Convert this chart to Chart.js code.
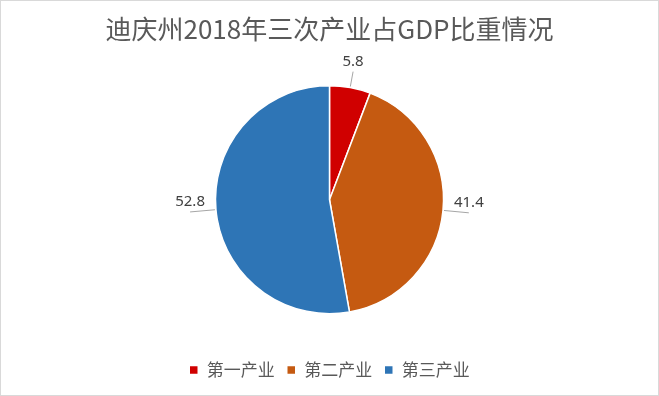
<!DOCTYPE html>
<html>
<head>
<meta charset="utf-8">
<script src="https://cdn.jsdelivr.net/npm/chart.js@4"></script>
<style>
  html, body { margin: 0; padding: 0; background: #fff; }
  #wrap { width: 659px; height: 396px; }
</style>
</head>
<body>
<div id="wrap"><canvas id="myChart" width="659" height="396"></canvas></div>
<script>
var chartTitle = '迪庆州2018年三次产业占GDP比重情况';
var industryNames = ['第一产业', '第二产业', '第三产业'];
var shareValues = [5.8, 41.4, 52.8];
var sliceColors = ['#D00000', '#C55A11', '#2E75B6'];

// white background + thin grey frame
var framePlugin = {
    id: 'frame',
    beforeDraw: function (chart) {
        var ctx = chart.ctx;
        ctx.save();
        ctx.fillStyle = '#fff';
        ctx.fillRect(0, 0, chart.width, chart.height);
        ctx.strokeStyle = '#D9D9D9';
        ctx.lineWidth = 1;
        ctx.strokeRect(0.5, 0.5, chart.width - 1, chart.height - 1);
        ctx.restore();
    }
};

// value labels outside the pie with short leader lines
var labelPlugin = {
    id: 'outLabels',
    afterDatasetsDraw: function (chart) {
        var ctx = chart.ctx;
        var meta = chart.getDatasetMeta(0);
        var values = chart.data.datasets[0].data;
        ctx.save();
        meta.data.forEach(function (arc, i) {
            var p = arc.getProps(['x', 'y', 'startAngle', 'endAngle', 'outerRadius'], true);
            var mid = (p.startAngle + p.endAngle) / 2;
            var dx = Math.cos(mid), dy = Math.sin(mid);
            var ex = p.x + dx * (p.outerRadius + 1);
            var ey = p.y + dy * (p.outerRadius + 1);
            var len = 13 + 12 * Math.abs(dx);
            var px = ex + dx * len;
            var py = ey + dy * len;
            ctx.strokeStyle = '#A6A6A6';
            ctx.lineWidth = 1;
            ctx.beginPath();
            ctx.moveTo(ex, ey);
            ctx.lineTo(px, py);
            ctx.stroke();
            ctx.fillStyle = '#404040';
            ctx.font = '15px "Noto Sans"';
            ctx.textAlign = 'center';
            ctx.textBaseline = 'middle';
            ctx.fillText(values[i].toFixed(1), px, py - 10);
        });
        ctx.restore();
    }
};

var ctx = document.getElementById('myChart').getContext('2d');
var myChart = new Chart(ctx, {
    type: 'pie',
    data: {
        labels: industryNames,
        datasets: [{
            data: shareValues,
            backgroundColor: sliceColors,
            borderColor: '#FFFFFF',
            borderWidth: 1.5,
            radius: 114
        }]
    },
    options: {
        responsive: false,
        animation: false,
        events: [],
        layout: { padding: { top: 0, bottom: 7.5, left: 0, right: 0 } },
        plugins: {
            title: {
                display: true,
                text: chartTitle,
                color: '#595959',
                font: { family: '"Noto Sans CJK SC"', size: 26, weight: 'normal' },
                padding: { top: 14, bottom: 40 }
            },
            legend: {
                position: 'bottom',
                title: { display: true, text: '', font: { size: 12 }, padding: { top: 21, bottom: 0 } },
                labels: {
                    color: '#595959',
                    font: { family: '"Noto Sans CJK SC"', size: 17 },
                    boxWidth: 9,
                    boxHeight: 9,
                    padding: 12
                }
            },
            tooltip: { enabled: false }
        }
    },
    plugins: [framePlugin, labelPlugin]
});
</script>
</body>
</html>
